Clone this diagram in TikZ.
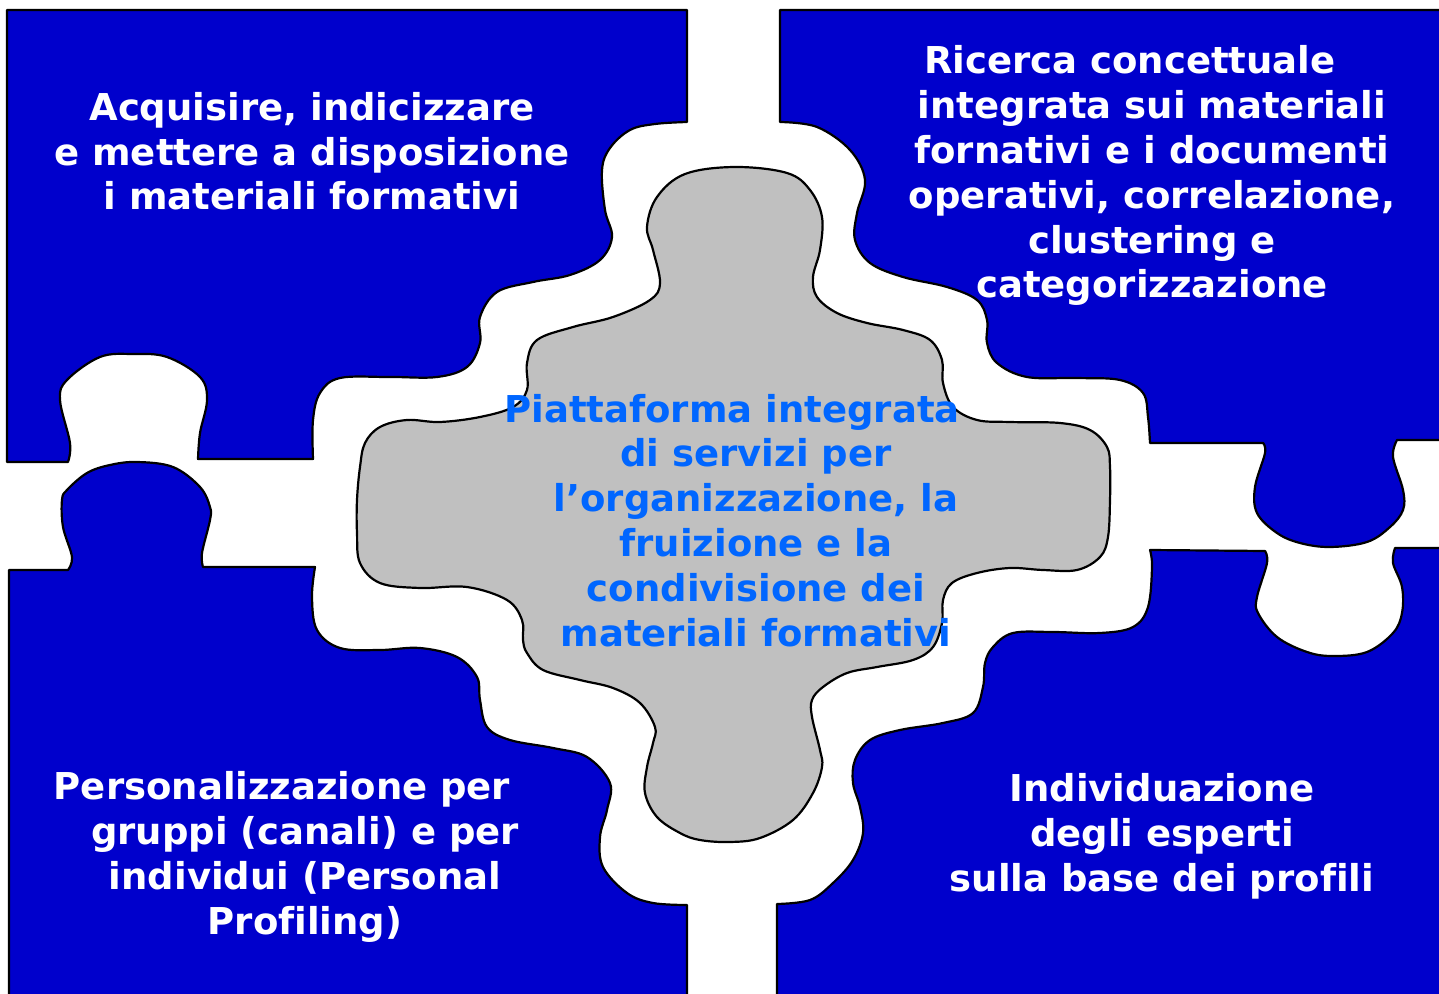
\documentclass[tikz,border=0pt]{standalone}
\usepackage{fontspec}
\setmainfont[Ligatures=NoCommon]{DejaVu Sans}
\definecolor{pieceblue}{RGB}{0,0,204}
\definecolor{piecegray}{RGB}{192,192,192}
\definecolor{centertext}{RGB}{0,102,255}
\begin{document}
\begin{tikzpicture}[x=0.5pt,y=-0.5pt,
  piece/.style={fill=pieceblue,draw=black,line width=1.1pt,line join=round},
  core/.style={fill=piecegray,draw=black,line width=1.1pt,line join=round},
  label/.style={anchor=base,align=center,text=white,inner sep=0pt,
    font=\fontsize{18.5}{22.4}\selectfont\bfseries},
  corelabel/.style={label,text=centertext}]
\useasboundingbox (0,0) rectangle (1439,994);
\clip (0,0) rectangle (1439,994);
% top-left piece
\path[piece] (7,10) -- (687,10) -- (687,122)
  -- plot[smooth,tension=0.6] coordinates {(687,122) (655,124) (630,130) (610,148) (602,170) (605,210) (612,237) (600,260) (570,275) (533,282) (497,292) (480,317) (480,343) (467,367) (437,377) (390,377) (340,378) (320,393) (313,420) (313,459)}
  -- (198,459)
  -- plot[smooth,tension=0.6] coordinates {(198,459) (200,433) (207,400) (200,377) (167,357) (133,354) (100,357) (67,380) (60,400) (70,443) (68,462)}
  -- (7,462) -- cycle;
% bottom-left piece
\path[piece] (9,1005) -- (9,570) -- (68,570)
  -- plot[smooth,tension=0.6] coordinates {(68,570) (72,557) (63,527) (62,500) (67,490) (87,473) (110,465) (137,462) (173,467) (200,487) (210,507) (210,520) (202,553) (203,567)}
  -- (315,567)
  -- plot[smooth,tension=0.6] coordinates {(315,567) (312,597) (317,630) (340,648) (380,650) (420,648) (457,657) (477,677) (480,700) (487,727) (510,740) (553,748) (587,757) (610,783) (607,810) (600,837) (603,867) (627,893) (653,903) (687,905)}
  -- (687,1005) -- cycle;
% top-right piece
\path[piece] (780,10) -- (1450,10) -- (1450,440) -- (1397,440)
  -- plot[smooth,tension=0.6] coordinates {(1397,440) (1393,457) (1403,490) (1403,510) (1390,527) (1367,542) (1330,547) (1300,543) (1277,533) (1257,513) (1255,487) (1265,453) (1263,443)}
  -- (1150,443)
  -- plot[smooth,tension=0.6] coordinates {(1150,443) (1148,417) (1143,393) (1120,380) (1077,378) (1027,377) (997,363) (987,343) (987,320) (977,300) (947,287) (903,277) (870,263) (855,240) (857,213) (865,180) (850,150) (817,127) (780,122)}
  -- cycle;
% bottom-right piece
\path[piece] (777,1005) -- (777,904)
  -- plot[smooth,tension=0.6] coordinates {(777,904) (810,900) (833,883) (853,860) (863,833) (860,807) (853,783) (855,760) (870,740) (900,730) (943,723) (973,713) (983,687) (985,663) (993,647) (1013,633) (1053,632) (1100,633) (1133,627) (1148,607) (1152,567) (1150,550)}
  -- (1265,551)
  -- plot[smooth,tension=0.6] coordinates {(1265,551) (1267,563) (1257,597) (1258,613) (1277,637) (1307,652) (1333,656) (1367,652) (1393,633) (1402,613) (1402,587) (1393,563) (1395,548)}
  -- (1450,548) -- (1450,1005) -- cycle;
% central piece
\path[core] plot[smooth cycle,tension=0.6] coordinates {(735,167) (787,173) (810,190) (822,217) (820,250) (813,277) (817,297) (837,313) (867,323) (903,330) (930,340) (942,360) (943,383) (953,407) (977,420) (1010,422) (1060,423) (1090,430) (1107,447) (1110,467) (1110,500) (1108,537) (1100,557) (1077,570) (1043,570) (1010,568) (977,573) (952,583) (943,600) (942,623) (933,647) (913,660) (877,667) (847,673) (823,687) (812,700) (812,717) (820,750) (822,767) (813,793) (793,820) (760,838) (730,842) (700,840) (680,833) (657,817) (645,793) (647,767) (653,743) (655,727) (640,703) (613,688) (580,680) (543,670) (527,653) (523,640) (522,620) (507,600) (467,587) (420,588) (380,583) (360,563) (357,533) (357,500) (360,467) (365,443) (380,427) (407,420) (440,422) (480,417) (513,407) (527,390) (527,363) (537,340) (573,327) (613,317) (650,300) (660,283) (653,250) (647,227) (657,197) (685,174)};
% labels (anchored at the baseline of the last line)
\node[label] (tl) at (312,210) {Acquisire, indicizzare\\e mettere a disposizione\\i materiali formativi};
\node[label] (tr) at (1152,298) {Ricerca concettuale\hspace*{22pt}\\integrata sui materiali\\fornativi e i documenti\\operativi, correlazione,\\clustering e\\categorizzazione};
\node[label] (bl) at (305,934) {Personalizzazione per\hspace*{23pt}\\gruppi (canali) e per\\individui (Personal\\Profiling)};
\node[label] (br) at (1162,891) {Individuazione\\degli esperti\\sulla base dei profili};
\node[corelabel] (core) at (756,646) {Piattaforma integrata\hspace*{24pt}\\di servizi per\hspace*{24pt}\\l’organizzazione, la\\fruizione e la\\condivisione dei\\materiali formativi};
\end{tikzpicture}
\end{document}
